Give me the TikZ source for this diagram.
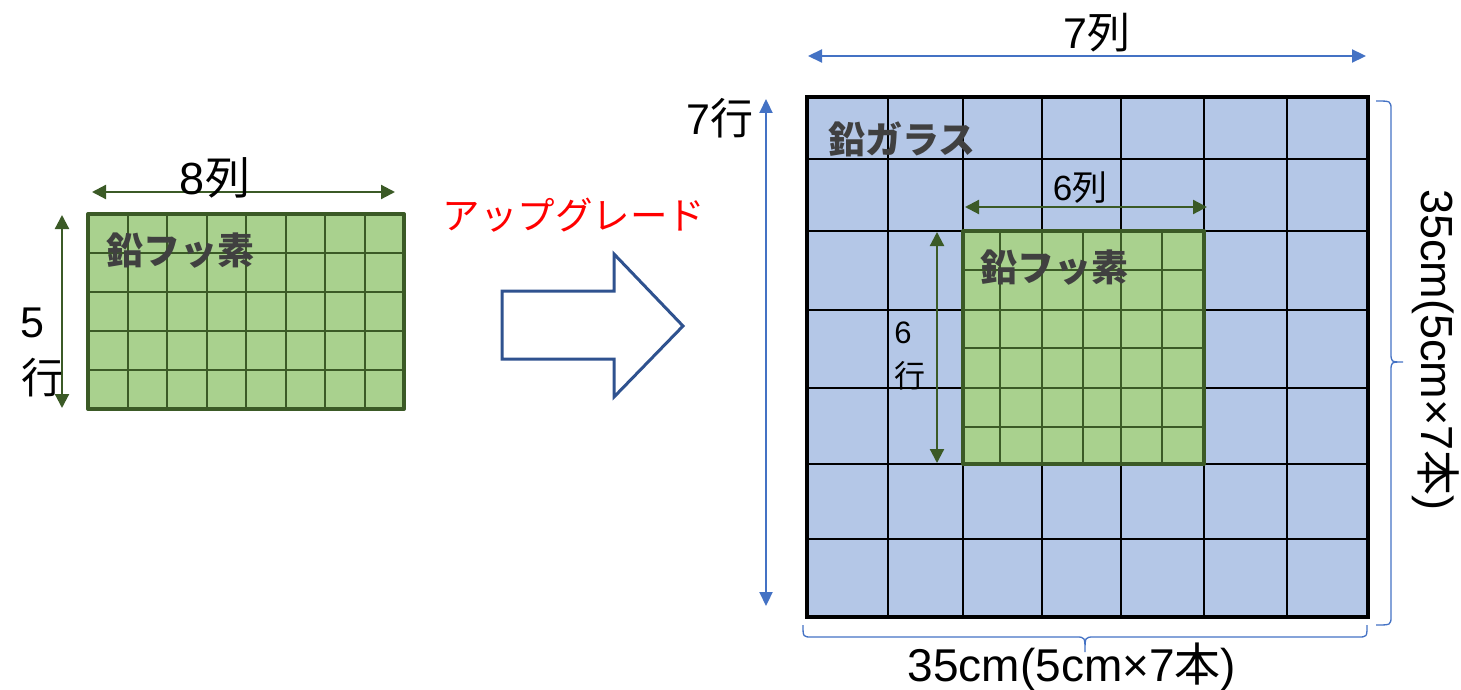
\documentclass[tikz,border=0pt]{standalone}
\usepackage{fontspec}
\setmainfont{Liberation Sans}
\newfontfamily\cjk{Noto Sans CJK JP}
\usetikzlibrary{arrows.meta}
\definecolor{gfill}{HTML}{A9D18E}
\definecolor{gline}{HTML}{3B5A26}
\definecolor{bfill}{HTML}{B4C7E7}
\definecolor{barrow}{HTML}{4472C4}
\definecolor{ablue}{HTML}{2F528F}
\definecolor{tgray}{HTML}{404040}
\definecolor{ured}{HTML}{FF0000}
\begin{document}
\begin{tikzpicture}[x=1pt,y=-1pt,
  lbl/.style={inner sep=0pt, text=black},
  matlbl/.style={inner sep=0pt, text=tgray, font=\cjk\bfseries\fontsize{37}{40}\selectfont},
  gdim/.style={draw=gline, line width=2.2pt, {Triangle[length=14pt,width=14pt]}-{Triangle[length=14pt,width=14pt]}},
  bdim/.style={draw=barrow, line width=2.2pt, {Triangle[length=14pt,width=13pt]}-{Triangle[length=14pt,width=13pt]}},
  bracestyle/.style={draw=barrow, line width=1.3pt},
  gridg/.style={draw=gline, line width=2pt},
  gridk/.style={draw=black, line width=2pt}]
\useasboundingbox (0,0) rectangle (1461,690);

% ---------- left green grid ----------
\fill[gfill] (88,214) rectangle (404,409);
\foreach \x in {127.5,167,206.5,246,285.5,325,364.5} \draw[gridg] (\x,214) -- (\x,409);
\foreach \y in {253,292,331,370} \draw[gridg] (88,\y) -- (404,\y);
\draw[draw=gline, line width=4pt, line join=round] (88,214) rectangle (404,409);

\node[matlbl] (lmat) at (180,251) {鉛フッ素};

\coordinate (l8a) at (92,192);
\coordinate (l8b) at (395,192);
\draw[gdim] (l8a) -- (l8b);
\node[lbl, font=\fontsize{45}{50}\selectfont] (l8) at (215,178) {8{\cjk 列}};

\coordinate (l5a) at (62,215);
\coordinate (l5b) at (62,408);
\draw[gdim] (l5a) -- (l5b);
\node[lbl, font=\fontsize{43}{48}\selectfont] (l5n) at (32,323) {5};
\node[lbl, font=\cjk\fontsize{42}{48}\selectfont] (l5k) at (42,378) {行};

% ---------- upgrade arrow ----------
\node[inner sep=0pt, text=ured, font=\cjk\fontsize{37.5}{40}\selectfont] (up) at (574,215) {アップグレード};
\draw[ablue, line width=3pt, fill=white, line join=miter]
  (502,291) -- (614,291) -- (614,254) -- (683,326) -- (614,397) -- (614,359) -- (502,359) -- cycle;

% ---------- right blue grid ----------
\fill[bfill] (807,97) rectangle (1368,617);
\foreach \x in {888,963,1042,1121,1204,1287} \draw[gridk] (\x,97) -- (\x,617);
\foreach \y in {159,231,310,388,464,539} \draw[gridk] (807,\y) -- (1368,\y);
\draw[black, line width=4pt] (807,97) rectangle (1368,617);

% inner green
\fill[gfill] (963,231) rectangle (1204,464);
\foreach \x in {1000,1042,1083,1121,1162} \draw[gridg] (\x,231) -- (\x,464);
\foreach \y in {270,310,348,388,427} \draw[gridg] (963,\y) -- (1204,\y);
\draw[draw=gline, line width=4pt, line join=round] (963,231) rectangle (1204,464);

\node[matlbl] (glass) at (902,139) {鉛ガラス};
\node[matlbl] (imat) at (1054,268) {鉛フッ素};

% 6 columns / 6 rows
\coordinate (i6a) at (965,207);
\coordinate (i6b) at (1207,207);
\draw[gdim] (i6a) -- (i6b);
\node[lbl, font=\fontsize{35}{40}\selectfont] (i6c) at (1080,188) {6{\cjk 列}};
\coordinate (i6r1) at (937,232);
\coordinate (i6r2) at (937,463);
\draw[gdim] (i6r1) -- (i6r2);
\node[lbl, font=\fontsize{31}{36}\selectfont] (i6n) at (903,333) {6};
\node[lbl, font=\cjk\fontsize{31}{36}\selectfont] (i6k) at (910,376) {行};

% 7 columns / 7 rows
\coordinate (c7a) at (808,56);
\coordinate (c7b) at (1366,56);
\draw[bdim] (c7a) -- (c7b);
\node[lbl, font=\fontsize{43}{48}\selectfont] (c7) at (1097,33) {7{\cjk 列}};
\coordinate (r7a) at (766,99);
\coordinate (r7b) at (766,606);
\draw[bdim] (r7a) -- (r7b);
\node[lbl, font=\fontsize{43}{48}\selectfont] (r7) at (720,118) {7{\cjk 行}};

% braces
\draw[bracestyle] (803,625) .. controls (803,637) .. (812,637) -- (1076,637)
  .. controls (1085,637) .. (1085,652) .. controls (1085,637) .. (1094,637)
  -- (1358,637) .. controls (1367,637) .. (1367,625);
\node[lbl, font=\fontsize{46}{50}\selectfont] (bw) at (1072,667) {35cm(5cm×7{\cjk 本})};

\draw[bracestyle] (1376,101) .. controls (1391,101) .. (1391,110) -- (1391,353)
  .. controls (1391,362) .. (1403,362) .. controls (1391,362) .. (1391,371)
  -- (1391,616) .. controls (1391,625) .. (1376,625);
\node[lbl, rotate=-90, font=\fontsize{45}{50}\selectfont] (rw) at (1436,350) {35cm(5cm×7{\cjk 本})};
\end{tikzpicture}
\end{document}
